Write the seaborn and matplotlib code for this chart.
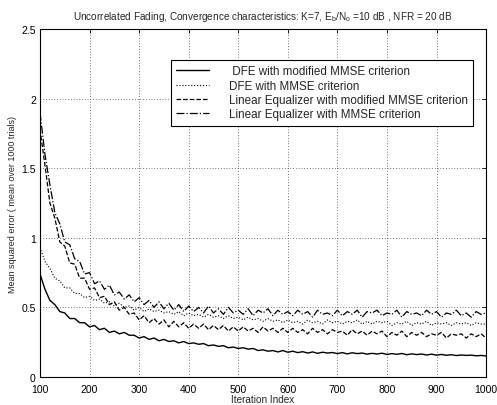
import matplotlib
matplotlib.use("Agg")
import matplotlib.pyplot as plt
import seaborn as sns
import numpy as np
import pandas as pd

iterations = list(range(100, 1001, 10))

dfe_modified = [0.74, 0.63, 0.55, 0.52, 0.47, 0.46, 0.42, 0.42, 0.39, 0.39,
                0.36, 0.37, 0.34, 0.35, 0.32, 0.33, 0.31, 0.32, 0.30, 0.30,
                0.28, 0.29, 0.27, 0.28, 0.26, 0.27, 0.255, 0.26, 0.245, 0.255,
                0.24, 0.245, 0.235, 0.24, 0.225, 0.23, 0.22, 0.225, 0.21, 0.215,
                0.205, 0.21, 0.20, 0.205, 0.19, 0.195, 0.185, 0.19, 0.18, 0.19,
                0.178,
                0.185, 0.175, 0.182, 0.172, 0.18, 0.17, 0.178, 0.172, 0.176, 0.168,
                0.175, 0.166, 0.174, 0.168, 0.172, 0.164, 0.17, 0.165, 0.171, 0.162,
                0.168, 0.163, 0.169, 0.16, 0.166, 0.161, 0.165, 0.158, 0.164, 0.157,
                0.162, 0.156, 0.16, 0.154, 0.158, 0.155, 0.157, 0.152, 0.155, 0.151]

dfe_mmse = [0.93, 0.83, 0.78, 0.71, 0.69, 0.64, 0.64, 0.60, 0.60, 0.57,
            0.58, 0.55, 0.56, 0.53, 0.54, 0.51, 0.53, 0.50, 0.51, 0.48,
            0.50, 0.47, 0.49, 0.47, 0.48, 0.46, 0.47, 0.45, 0.47, 0.44,
            0.46, 0.44, 0.45, 0.43, 0.45, 0.43, 0.44, 0.42, 0.44, 0.42,
            0.43, 0.41, 0.43, 0.41, 0.42, 0.40, 0.42, 0.40, 0.41, 0.39,
            0.41,
            0.39, 0.40, 0.38, 0.41, 0.39, 0.40, 0.38, 0.41, 0.39, 0.40,
            0.38, 0.40, 0.39, 0.41, 0.38, 0.40, 0.38, 0.40, 0.39, 0.40,
            0.37, 0.39, 0.38, 0.40, 0.37, 0.39, 0.38, 0.40, 0.37, 0.39,
            0.38, 0.39, 0.37, 0.39, 0.38, 0.39, 0.37, 0.39, 0.38, 0.38]

lin_modified = [1.78, 1.52, 1.25, 1.14, 0.97, 0.94, 0.82, 0.81, 0.71, 0.71,
                0.63, 0.64, 0.57, 0.58, 0.52, 0.54, 0.48, 0.50, 0.45, 0.46,
                0.41, 0.44, 0.39, 0.42, 0.38, 0.41, 0.36, 0.40, 0.36, 0.39,
                0.35, 0.38, 0.35, 0.38, 0.34, 0.37, 0.34, 0.37, 0.33, 0.36,
                0.33, 0.36, 0.33, 0.35, 0.32, 0.36, 0.33, 0.35, 0.32, 0.35,
                0.32,
                0.35, 0.32, 0.34, 0.31, 0.35, 0.32, 0.34, 0.31, 0.34, 0.32,
                0.33, 0.30, 0.34, 0.31, 0.33, 0.30, 0.33, 0.31, 0.33, 0.29,
                0.32, 0.30, 0.33, 0.29, 0.32, 0.30, 0.32, 0.29, 0.31, 0.30,
                0.32, 0.28, 0.31, 0.30, 0.31, 0.28, 0.31, 0.29, 0.31, 0.28]

lin_mmse = [1.90, 1.60, 1.38, 1.18, 1.10, 0.97, 0.95, 0.85, 0.83, 0.74,
            0.75, 0.67, 0.69, 0.63, 0.66, 0.59, 0.61, 0.56, 0.59, 0.54,
            0.57, 0.52, 0.55, 0.50, 0.54, 0.49, 0.53, 0.48, 0.52, 0.47,
            0.51, 0.47, 0.50, 0.46, 0.51, 0.46, 0.49, 0.45, 0.50, 0.46,
            0.48, 0.45, 0.49, 0.44, 0.48, 0.46, 0.49, 0.44, 0.48, 0.45,
            0.47,
            0.44, 0.48, 0.45, 0.47, 0.43, 0.48, 0.45, 0.46, 0.44, 0.48,
            0.44, 0.47, 0.45, 0.48, 0.43, 0.47, 0.46, 0.48, 0.44, 0.46,
            0.45, 0.48, 0.43, 0.47, 0.45, 0.46, 0.44, 0.48, 0.45, 0.47,
            0.43, 0.46, 0.45, 0.48, 0.44, 0.46, 0.43, 0.47, 0.45, 0.46]

labels = [" DFE with modified MMSE criterion",
          "DFE with MMSE criterion",
          "Linear Equalizer with modified MMSE criterion",
          "Linear Equalizer with MMSE criterion"]
series = [dfe_modified, dfe_mmse, lin_modified, lin_mmse]
styles = ["-", ":", "--", "-."]
widths = [1.0, 0.8, 0.9, 0.9]

x_ticks = list(range(100, 1001, 100))
y_ticks = [0, 0.5, 1, 1.5, 2, 2.5]
y_tick_labels = ["0", "0.5", "1", "1.5", "2", "2.5"]

sns.set_style("white")
plt.rcParams['font.family'] = ['Liberation Sans', 'DejaVu Sans']
plt.rcParams['mathtext.default'] = 'regular'

fig = plt.figure(figsize=(4.97, 4.06), dpi=100)
ax = fig.add_axes([0.0805, 0.069, 0.8975, 0.857])

for vals, lab, ls, lw in zip(series, labels, styles, widths):
    df = pd.DataFrame({"it": iterations, "mse": vals})
    sns.lineplot(data=df, x="it", y="mse", ax=ax, color="black",
                 linestyle=ls, linewidth=lw, label=lab)

ax.set_xlim(100, 1000)
ax.set_ylim(0, 2.5)
ax.set_xticks(x_ticks)
ax.set_xticklabels([str(t) for t in x_ticks])
ax.set_yticks(y_ticks)
ax.set_yticklabels(y_tick_labels)
ax.grid(True, linestyle=(0, (1, 3)), color="black", linewidth=0.5)
ax.tick_params(direction="in", top=True, right=True, labelsize=7.5,
               length=3, width=0.6, colors="black")
ax.tick_params(axis="x", pad=5)
ax.tick_params(axis="y", pad=3)
for sp in ax.spines.values():
    sp.set_color("black")
    sp.set_linewidth(0.8)

ax.set_xlabel("Iteration Index", fontsize=7.2, labelpad=0)
ax.set_ylabel("Mean squared error ( mean over 1000 trials)", fontsize=6.5, labelpad=3)
ax.set_title("Uncorrelated Fading, Convergence characteristics: K=7, E$_b$/N$_o$ =10 dB , NFR = 20 dB",
             fontsize=7.2, pad=7)

leg = ax.legend(loc="upper right", bbox_to_anchor=(0.971, 0.911), fontsize=8.4,
                frameon=True, fancybox=False, handlelength=2.8, handletextpad=1.7,
                labelspacing=0.2, borderpad=0.45, borderaxespad=0)
leg.get_frame().set_edgecolor("black")
leg.get_frame().set_linewidth(0.8)
leg.get_frame().set_alpha(1)

fig.savefig("out.png", dpi=100)
